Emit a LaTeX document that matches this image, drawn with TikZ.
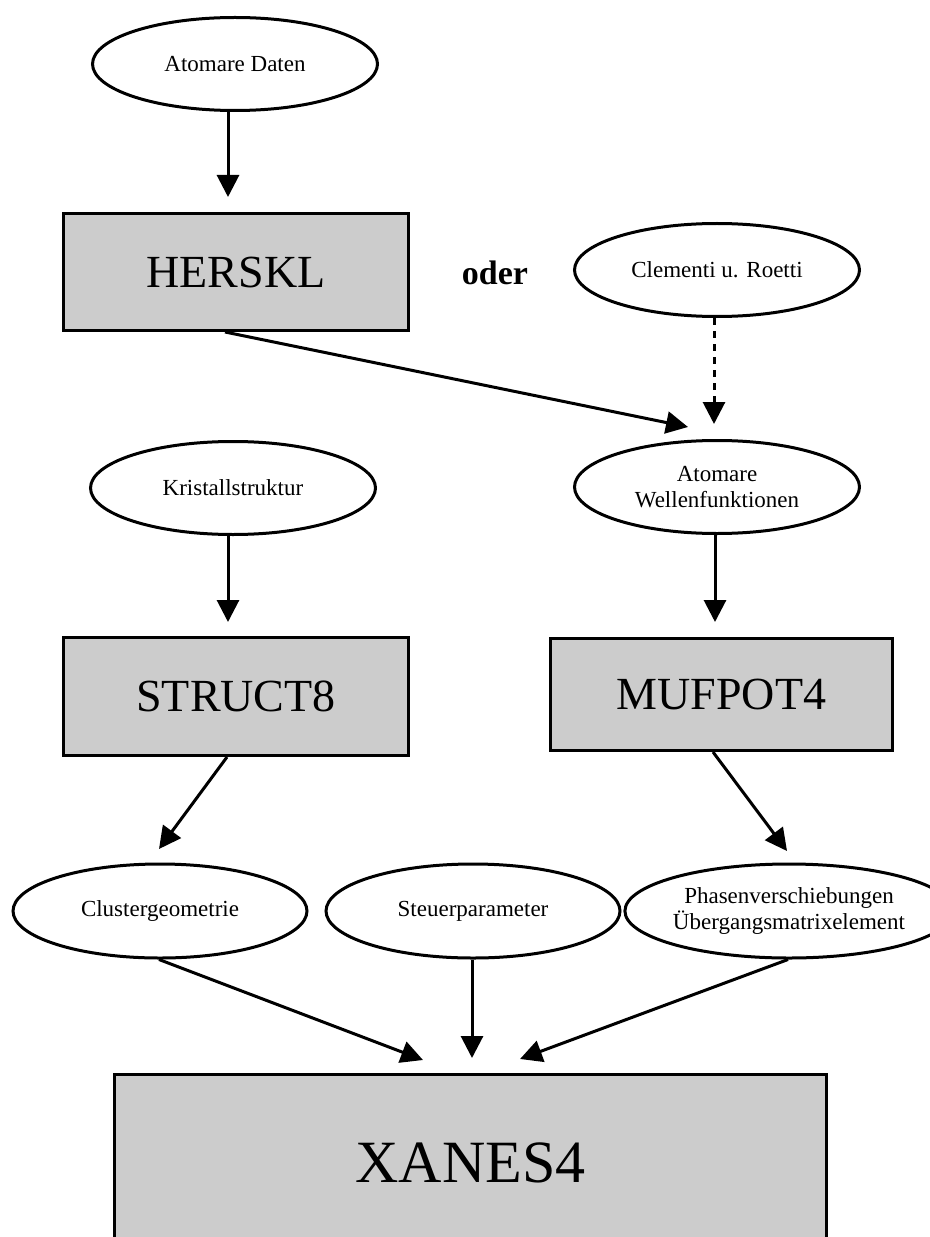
\documentclass[tikz,border=0pt]{standalone}
\usepackage{fontspec}
\setmainfont{Liberation Serif}
\usetikzlibrary{shapes.geometric,arrows.meta,calc}
\definecolor{boxgray}{HTML}{CCCCCC}
\begin{document}
\begin{tikzpicture}[x=0.75pt,y=-0.75pt,
  oval/.style={ellipse, draw, line width=2.25pt, fill=white,
    minimum width=213.75pt, minimum height=69.75pt, inner sep=0pt,
    align=center, font=\fontsize{17.25}{19}\selectfont},
  wideoval/.style={oval, minimum width=220.5pt, minimum height=70.5pt},
  prog/.style={rectangle, draw, line width=2.25pt, fill=boxgray,
    inner sep=0pt, font=\fontsize{34.5}{40}\selectfont},
  flow/.style={line width=2.25pt, -{Triangle[length=16.5pt,width=16.5pt]}},
]
\useasboundingbox (0,0) rectangle (930,1237);
\clip (0,0) rectangle (930,1237);

% data sources and programs
\node[oval] (ad) at (235,64) {Atomare Daten};
\node[prog, minimum width=258.75pt, minimum height=87.75pt] (herskl) at (236,272) {HERSKL};
\node[font=\fontsize{25.5}{30}\selectfont\bfseries] (oder) at (495,273) {oder};
\node[oval] (cr) at (717,270) {Clementi u. Roetti};
\node[oval] (wf) at (717,487) {Atomare\\Wellenfunktionen};
\node[oval] (ks) at (233,488) {Kristallstruktur};
\node[prog, minimum width=258.75pt, minimum height=88.5pt] (struct) at (236,696.5) {STRUCT8};
\node[prog, minimum width=256.5pt, minimum height=84pt] (mufpot) at (721.5,694.5) {MUFPOT4};
\node[wideoval] (cg) at (160,911) {Clustergeometrie};
\node[wideoval] (sp) at (473,911) {Steuerparameter};
\node[wideoval] (ph) at (789,911) {Phasenverschiebungen\\Übergangsmatrixelement};
\node[prog, minimum width=534pt, minimum height=132.75pt,
      font=\fontsize{45}{52}\selectfont] (xanes) at (470.5,1163) {XANES4};

% connectors
\draw[flow] ($(ad.south)+(-7,0)$) -- ($(herskl.north)+(-8,-15)$);
\draw[flow] ($(herskl.south)+(-11,0)$) -- ($(wf.north)+(-29,-12)$);
\draw[flow, dash pattern=on 5.25pt off 4.5pt] ($(cr.south)+(-3,0)$) -- ($(wf.north)+(-3,-15)$);
\draw[flow] ($(ks.south)+(-5,0)$) -- ($(struct.north)+(-8,-14)$);
\draw[flow] ($(wf.south)+(-2,0)$) -- ($(mufpot.north)+(-6.5,-15)$);
\draw[flow] ($(struct.south)+(-9,0)$) -- ($(cg.north)+(-1,-13.5)$);
\draw[flow] ($(mufpot.south)+(-8.5,0)$) -- ($(ph.north)+(-2,-11.5)$);
\draw[flow] ($(cg.south)+(-1,0)$) -- ($(xanes.north)+(-47.5,-13)$);
\draw[flow] ($(sp.south)+(-1,0)$) -- ($(xanes.north)+(1.5,-15)$);
\draw[flow] ($(ph.south)+(-1,0)$) -- ($(xanes.north)+(49.5,-14)$);
\end{tikzpicture}
\end{document}
